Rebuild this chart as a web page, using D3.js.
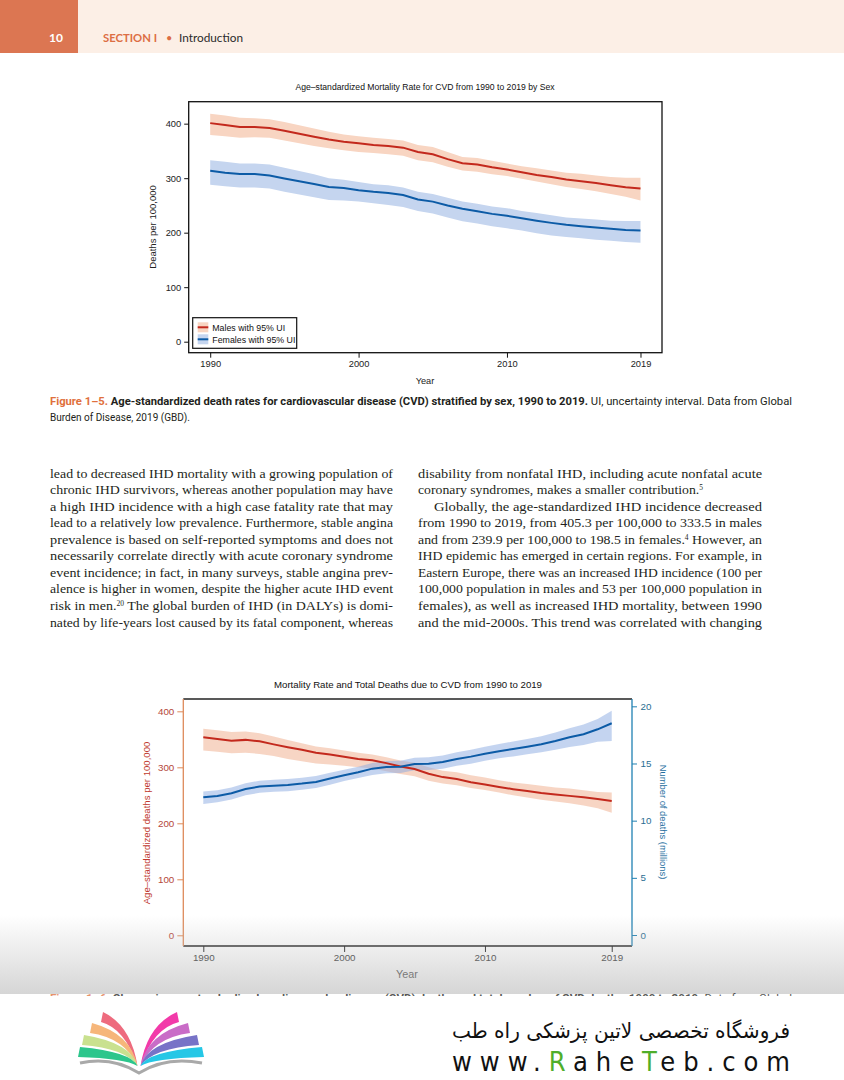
<!DOCTYPE html>
<html>
<head>
<meta charset="utf-8">
<script src="https://cdn.jsdelivr.net/npm/d3@7"></script>
<style>
  body { margin: 0; background: #fff; }
  svg { display: block; }
</style>
</head>
<body>
<script>
// ---- data ----
var years = [1990, 1991, 1992, 1993, 1994, 1995, 1996, 1997, 1998, 1999,
             2000, 2001, 2002, 2003, 2004, 2005, 2006, 2007, 2008, 2009,
             2010, 2011, 2012, 2013, 2014, 2015, 2016, 2017, 2018, 2019];

// Figure 1-5: age-standardized deaths per 100,000 by sex (with 95% UI)
var maleRate  = [401, 397.5, 394, 394, 392, 387, 381.5, 376, 371, 367,
                 364, 361, 359, 356, 348, 344, 335, 327.5, 325, 320,
                 316, 311, 306, 302, 297.5, 294.5, 291, 287, 283.5, 281];
var maleUpper = [418, 415, 411, 410, 408, 403, 397, 391, 385, 380,
                 377, 374, 372, 369, 361, 357, 348, 339, 337, 332,
                 327, 322, 318, 314, 310, 308, 305, 302, 301, 301];
var maleLower = [379, 377, 374, 375, 374, 369, 364, 359, 355, 351,
                 348, 346, 344, 341, 333, 329, 321, 314, 312, 307,
                 304, 299, 294, 289, 284, 280, 276, 271, 266, 259];
var femaleRate  = [313.5, 310, 307.5, 307.5, 305, 299.5, 294.5, 289.5, 284, 282,
                   278, 275, 273, 269, 261, 257, 250, 244, 239.5, 234.5,
                   231, 226.5, 222, 218, 214.5, 212, 209.5, 207, 205, 204];
var femaleUpper = [333, 330, 327, 327, 325, 319, 313, 307, 300, 297,
                   293, 289, 287, 283, 275, 271, 264, 257, 253, 248,
                   245, 240, 236, 232, 228, 226, 224, 222, 221.5, 221.5];
var femaleLower = [288, 285, 283, 283, 281, 275, 270, 265, 260, 259,
                   257, 254, 251, 247, 240, 235, 228, 221, 217, 212,
                   208, 204, 199, 195, 192, 190, 187, 185, 183, 181.5];

// Figure 1-6: overall rate (left axis) and number of deaths in millions (right axis)
var allRate  = [353.5, 350.5, 347.5, 349, 346.5, 341, 336, 331.5, 326, 323,
                319, 315, 312.5, 307.5, 301.5, 297, 288.5, 282.5, 279, 273.5,
                269.5, 265, 261, 257.5, 254, 251.5, 249, 246.5, 243.5, 240];
var allUpper = [369, 366, 363, 364, 361, 355, 349, 343, 337, 334,
                330, 326, 323, 318, 312, 308, 300, 294, 291, 286,
                282, 277, 273, 270, 267, 264, 262, 259, 256, 255];
var allLower = [330, 328, 325, 326, 324, 320, 315, 311, 307, 305,
                303, 300, 298, 293, 288, 284, 276, 271, 268, 263,
                259.5, 255, 250, 246, 242, 239, 236, 232, 227, 219];
var deaths      = [12.05, 12.16, 12.4, 12.77, 12.98, 13.06, 13.12, 13.24, 13.39, 13.68,
                   13.97, 14.23, 14.55, 14.7, 14.72, 14.96, 14.98, 15.13, 15.4, 15.6,
                   15.86, 16.07, 16.27, 16.47, 16.68, 16.97, 17.3, 17.56, 17.99, 18.52];
var deathsUpper = [12.55, 12.67, 12.91, 13.28, 13.5, 13.58, 13.64, 13.76, 13.91, 14.2,
                   14.45, 14.72, 15.05, 15.21, 15.25, 15.5, 15.54, 15.7, 15.98, 16.2,
                   16.47, 16.7, 16.92, 17.14, 17.38, 17.7, 18.08, 18.4, 18.9, 19.62];
var deathsLower = [11.46, 11.6, 11.85, 12.22, 12.44, 12.52, 12.58, 12.7, 12.85, 13.15,
                   13.47, 13.72, 14.0, 14.15, 14.17, 14.4, 14.42, 14.55, 14.8, 14.98,
                   15.25, 15.45, 15.62, 15.8, 15.98, 16.2, 16.45, 16.62, 16.9, 16.97];

var yearTicks = [1990, 2000, 2010, 2019];
var rateTicks = [0, 100, 200, 300, 400];
var deathTicks = [0, 5, 10, 15, 20];
var legendLabels = ["Males with 95% UI", "Females with 95% UI"];

var FONT = "Liberation Sans, Arial, Helvetica, sans-serif";
var RED = "#c3291d", RED_BAND = "#f8d5c2";
var BLUE = "#0c5ba6", BLUE_BAND = "#c5d5ef";

var svg = d3.select("body").append("svg")
    .attr("width", 844)
    .attr("height", 1080);

var defs = svg.append("defs");

// ---- page header ----
svg.append("rect").attr("width", 844).attr("height", 53).attr("fill", "#fcefe6");
svg.append("rect").attr("width", 78).attr("height", 53).attr("fill", "#dc7652");
svg.append("text").attr("x", 56).attr("y", 42).attr("text-anchor", "middle")
    .attr("font-family", "Lato, Open Sans, sans-serif").attr("font-weight", "bold")
    .attr("font-size", 12).attr("fill", "#fff").text("10");
svg.append("text").attr("x", 103).attr("y", 42)
    .attr("font-family", "Lato, Open Sans, sans-serif").attr("font-weight", "bold")
    .attr("font-size", 11.5).attr("fill", "#dc6e44")
    .attr("textLength", 54).attr("lengthAdjust", "spacingAndGlyphs").text("SECTION I");
svg.append("text").attr("x", 166).attr("y", 42)
    .attr("font-family", "Lato, sans-serif").attr("font-size", 11).attr("fill", "#dc6e44").text("•");
svg.append("text").attr("x", 179).attr("y", 42)
    .attr("font-family", "Lato, Open Sans, sans-serif")
    .attr("font-size", 11.5).attr("fill", "#2b2b2b")
    .attr("textLength", 64).attr("lengthAdjust", "spacingAndGlyphs").text("Introduction");

function styleAxis(g, lineColor, textColor, size) {
    g.select(".domain").remove();
    g.selectAll(".tick line").attr("stroke", lineColor).attr("stroke-width", 1);
    g.selectAll(".tick text").attr("fill", textColor).attr("font-size", size).attr("font-family", FONT);
}

// ---- Figure 1-5 ----
var sexData = years.map(function(yr, i) {
    return {year: yr, m: maleRate[i], mHi: maleUpper[i], mLo: maleLower[i],
            f: femaleRate[i], fHi: femaleUpper[i], fLo: femaleLower[i]};
});

var x1 = d3.scaleLinear().domain([1988.55, 2020.45]).range([188.7, 662]);
var y1 = d3.scaleLinear().domain([-20.2, 440.3]).range([352.7, 101.7]);
var g1 = svg.append("g").attr("font-family", FONT);

g1.append("text").attr("x", 425).attr("y", 90).attr("text-anchor", "middle")
    .attr("font-size", 8.3).attr("fill", "#111")
    .attr("textLength", 259).attr("lengthAdjust", "spacingAndGlyphs")
    .text("Age\u2013standardized Mortality Rate for CVD from 1990 to 2019 by Sex");

g1.append("path").datum(sexData).attr("fill", RED_BAND)
    .attr("d", d3.area().x(function(d) { return x1(d.year); })
        .y0(function(d) { return y1(d.mLo); }).y1(function(d) { return y1(d.mHi); }));
g1.append("path").datum(sexData).attr("fill", BLUE_BAND)
    .attr("d", d3.area().x(function(d) { return x1(d.year); })
        .y0(function(d) { return y1(d.fLo); }).y1(function(d) { return y1(d.fHi); }));
g1.append("path").datum(sexData).attr("fill", "none").attr("stroke", RED).attr("stroke-width", 2)
    .attr("d", d3.line().x(function(d) { return x1(d.year); }).y(function(d) { return y1(d.m); }));
g1.append("path").datum(sexData).attr("fill", "none").attr("stroke", BLUE).attr("stroke-width", 2)
    .attr("d", d3.line().x(function(d) { return x1(d.year); }).y(function(d) { return y1(d.f); }));

g1.append("g").attr("transform", "translate(188.7,0)")
    .call(d3.axisLeft(y1).tickValues(rateTicks).tickSize(4.5).tickPadding(3))
    .call(function(g) { styleAxis(g, "#111", "#222", 9.3); });
g1.append("g").attr("transform", "translate(0,352.7)")
    .call(d3.axisBottom(x1).tickValues(yearTicks).tickFormat(d3.format("d")).tickSize(5).tickPadding(3))
    .call(function(g) { styleAxis(g, "#111", "#222", 9.3); });

g1.append("rect").attr("x", 188.7).attr("y", 101.7).attr("width", 662 - 188.7).attr("height", 251)
    .attr("fill", "none").attr("stroke", "#111").attr("stroke-width", 1.3);

g1.append("text").attr("transform", "translate(155.5,227) rotate(-90)").attr("text-anchor", "middle")
    .attr("font-size", 9.5).attr("fill", "#222").text("Deaths per 100,000");
g1.append("text").attr("x", 425).attr("y", 383.5).attr("text-anchor", "middle")
    .attr("font-size", 9.2).attr("fill", "#222").text("Year");

// legend
var leg = g1.append("g");
leg.append("rect").attr("x", 192.7).attr("y", 317.7).attr("width", 104).attr("height", 30.6)
    .attr("fill", "#fff").attr("stroke", "#111").attr("stroke-width", 1.2);
legendLabels.forEach(function(label, i) {
    var cy = 327.3 + i * 12;
    leg.append("rect").attr("x", 197.7).attr("y", cy - 5).attr("width", 10.6).attr("height", 10)
        .attr("fill", i === 0 ? RED_BAND : BLUE_BAND);
    leg.append("line").attr("x1", 197.7).attr("x2", 208.3).attr("y1", cy).attr("y2", cy)
        .attr("stroke", i === 0 ? RED : BLUE).attr("stroke-width", 2);
    leg.append("text").attr("x", 212.3).attr("y", cy + 3.2).attr("font-size", 8.8)
        .attr("fill", "#111").text(label);
});

// ---- caption ----
var cap = svg.append("text").attr("x", 50).attr("y", 405)
    .attr("font-family", "Liberation Sans Narrow, Roboto, sans-serif").attr("font-size", 10.5)
    .attr("textLength", 742).attr("lengthAdjust", "spacingAndGlyphs");
cap.append("tspan").attr("fill", "#e0703c").attr("font-weight", "bold").text("Figure 1\u20135.  ");
cap.append("tspan").attr("fill", "#231f20").attr("font-weight", "bold")
    .text("Age-standardized death rates for cardiovascular disease (CVD) stratified by sex, 1990 to 2019.");
cap.append("tspan").attr("fill", "#231f20").text(" UI, uncertainty interval. Data from Global");
svg.append("text").attr("x", 50).attr("y", 421)
    .attr("font-family", "Liberation Sans Narrow, Roboto, sans-serif").attr("font-size", 10.5)
    .attr("fill", "#231f20").attr("textLength", 140).attr("lengthAdjust", "spacingAndGlyphs")
    .text("Burden of Disease, 2019 (GBD).");

// ---- body text (two justified columns) ----
var leftLines = [
    "lead to decreased IHD mortality with a growing population of",
    "chronic IHD survivors, whereas another population may have",
    "a high IHD incidence with a high case fatality rate that may",
    "lead to a relatively low prevalence. Furthermore, stable angina",
    "prevalence is based on self-reported symptoms and does not",
    "necessarily correlate directly with acute coronary syndrome",
    "event incidence; in fact, in many surveys, stable angina prev-",
    "alence is higher in women, despite the higher acute IHD event",
    "risk in men.^20 The global burden of IHD (in DALYs) is domi-",
    "nated by life-years lost caused by its fatal component, whereas"
];
var rightLines = [
    "disability from nonfatal IHD, including acute nonfatal acute",
    "coronary syndromes, makes a smaller contribution.^5",
    "Globally, the age-standardized IHD incidence decreased",
    "from 1990 to 2019, from 405.3 per 100,000 to 333.5 in males",
    "and from 239.9 per 100,000 to 198.5 in females.^4 However, an",
    "IHD epidemic has emerged in certain regions. For example, in",
    "Eastern Europe, there was an increased IHD incidence (100 per",
    "100,000 population in males and 53 per 100,000 population in",
    "females), as well as increased IHD mortality, between 1990",
    "and the mid-2000s. This trend was correlated with changing"
];

function bodyLine(str, x, y, len) {
    var t = svg.append("text").attr("x", x).attr("y", y)
        .attr("font-family", "Liberation Serif, Times New Roman, serif").attr("font-size", 13.3)
        .attr("fill", "#231f20").attr("textLength", len).attr("lengthAdjust", "spacingAndGlyphs");
    var shift = 0;
    str.split(/(\^\d+)/).forEach(function(part) {
        if (!part.length) return;
        if (part.charAt(0) === "^") {
            t.append("tspan").attr("font-size", 7.2).attr("dy", -3.8).text(part.slice(1));
            shift = 3.8;
        } else {
            var ts = t.append("tspan").text(part);
            if (shift) { ts.attr("dy", shift); shift = 0; }
        }
    });
}
leftLines.forEach(function(s, i) { bodyLine(s, 50, 477.5 + i * 16.56, 343); });
rightLines.forEach(function(s, i) {
    var x = i === 2 ? 434 : 418;
    var len = i === 1 ? 285 : 762 - x;
    bodyLine(s, x, 477.5 + i * 16.56, len);
});

// ---- Figure 1-6 ----
var allData = years.map(function(yr, i) {
    return {year: yr, r: allRate[i], rHi: allUpper[i], rLo: allLower[i],
            n: deaths[i], nHi: deathsUpper[i], nLo: deathsLower[i]};
});

var x2 = d3.scaleLinear().domain([1988.58, 2020.44]).range([183.3, 632]);
var y2 = d3.scaleLinear().domain([-19.1, 422]).range([946, 699]);
var y2r = d3.scaleLinear().domain([-0.962, 20.64]).range([946, 699]);
var g2 = svg.append("g").attr("font-family", FONT);

g2.append("text").attr("x", 408).attr("y", 687.5).attr("text-anchor", "middle")
    .attr("font-size", 9.3).attr("fill", "#111")
    .attr("textLength", 268).attr("lengthAdjust", "spacingAndGlyphs")
    .text("Mortality Rate and Total Deaths due to CVD from 1990 to 2019");

g2.append("path").datum(allData).attr("fill", "rgb(240,172,138)").attr("fill-opacity", 0.5)
    .attr("d", d3.area().x(function(d) { return x2(d.year); })
        .y0(function(d) { return y2(d.rLo); }).y1(function(d) { return y2(d.rHi); }));
g2.append("path").datum(allData).attr("fill", "rgb(138,170,226)").attr("fill-opacity", 0.5)
    .attr("d", d3.area().x(function(d) { return x2(d.year); })
        .y0(function(d) { return y2r(d.nLo); }).y1(function(d) { return y2r(d.nHi); }));
g2.append("path").datum(allData).attr("fill", "none").attr("stroke", RED).attr("stroke-width", 2)
    .attr("d", d3.line().x(function(d) { return x2(d.year); }).y(function(d) { return y2(d.r); }));
g2.append("path").datum(allData).attr("fill", "none").attr("stroke", BLUE).attr("stroke-width", 2)
    .attr("d", d3.line().x(function(d) { return x2(d.year); }).y(function(d) { return y2r(d.n); }));

g2.append("g").attr("transform", "translate(183.3,0)")
    .call(d3.axisLeft(y2).tickValues(rateTicks).tickSize(6).tickPadding(3))
    .call(function(g) { styleAxis(g, "#de8a5a", "#b5473a", 9.8); });
g2.append("g").attr("transform", "translate(632,0)")
    .call(d3.axisRight(y2r).tickValues(deathTicks).tickSize(5).tickPadding(3.5))
    .call(function(g) { styleAxis(g, "#1f80b2", "#2a6e92", 9.8); });
g2.append("g").attr("transform", "translate(0,946)")
    .call(d3.axisBottom(x2).tickValues(yearTicks).tickFormat(d3.format("d")).tickSize(6).tickPadding(2.5))
    .call(function(g) { styleAxis(g, "#111", "#222", 9.8); });

// frame: black top/bottom, coloured side axes
g2.append("line").attr("x1", 183.3).attr("x2", 632).attr("y1", 699).attr("y2", 699)
    .attr("stroke", "#222").attr("stroke-width", 1.3);
g2.append("line").attr("x1", 183.3).attr("x2", 632).attr("y1", 946).attr("y2", 946)
    .attr("stroke", "#111").attr("stroke-width", 1.3);
g2.append("line").attr("x1", 183.3).attr("x2", 183.3).attr("y1", 699).attr("y2", 946)
    .attr("stroke", "#de8a5a").attr("stroke-width", 1.3);
g2.append("line").attr("x1", 632).attr("x2", 632).attr("y1", 699).attr("y2", 946)
    .attr("stroke", "#1f80b2").attr("stroke-width", 1.3);

g2.append("text").attr("transform", "translate(150,823) rotate(-90)").attr("text-anchor", "middle")
    .attr("font-size", 9.6).attr("fill", "#c0392e").text("Age\u2013standardized deaths per 100,000");
g2.append("text").attr("transform", "translate(660,822) rotate(90)").attr("text-anchor", "middle")
    .attr("font-size", 9.4).attr("fill", "#1e6e9e").text("Number of deaths (millions)");
g2.append("text").attr("x", 407).attr("y", 978).attr("text-anchor", "middle")
    .attr("font-size", 10.8).attr("fill", "#222").text("Year");

// ---- grey fade at the bottom of the page, with the cut caption line ----
var fade = defs.append("linearGradient").attr("id", "fade")
    .attr("x1", 0).attr("y1", 0).attr("x2", 0).attr("y2", 1);
fade.append("stop").attr("offset", "0%").attr("stop-color", "#c4c4c4").attr("stop-opacity", 0);
fade.append("stop").attr("offset", "100%").attr("stop-color", "#c4c4c4").attr("stop-opacity", 0.7);
svg.append("rect").attr("x", 0).attr("y", 915).attr("width", 844).attr("height", 79).attr("fill", "url(#fade)");

defs.append("clipPath").attr("id", "cut").append("rect")
    .attr("x", 0).attr("y", 993).attr("width", 844).attr("height", 3);
var cut = svg.append("text").attr("clip-path", "url(#cut)").attr("x", 50).attr("y", 1002)
    .attr("font-family", "Liberation Sans Narrow, Roboto, sans-serif").attr("font-size", 10.5)
    .attr("textLength", 742).attr("lengthAdjust", "spacingAndGlyphs").attr("opacity", 0.75);
cut.append("tspan").attr("fill", "#e0703c").attr("font-weight", "bold").text("Figure 1\u20136.  ");
cut.append("tspan").attr("fill", "#231f20").attr("font-weight", "bold")
    .text("Change in age-standardized cardiovascular disease (CVD) deaths and total number of CVD deaths, 1990 to 2019.");
cut.append("tspan").attr("fill", "#231f20").text(" Data from Global");

// ---- watermark: book logo and shop name ----
var logo = svg.append("g");
var cx = 139, tipY = 1066;
var strips = [
    {side: -1, ox: 103, top: 1012, bot: 1022, color: "#ee6b7e"},
    {side: -1, ox: 92,  top: 1023, bot: 1033, color: "#f6b67a"},
    {side: -1, ox: 84,  top: 1035, bot: 1045, color: "#c9e18f"},
    {side: -1, ox: 80,  top: 1047, bot: 1057, color: "#2cc68c"},
    {side: 1,  ox: 177, top: 1012, bot: 1022, color: "#f23aa9"},
    {side: 1,  ox: 188, top: 1023, bot: 1033, color: "#c96cc7"},
    {side: 1,  ox: 197, top: 1035, bot: 1045, color: "#7773c7"},
    {side: 1,  ox: 202, top: 1047, bot: 1057, color: "#25c7e6"}
];
strips.forEach(function(s) {
    var tx = cx + s.side * 1.5;
    var p = d3.path();
    p.moveTo(s.ox, s.top);
    p.quadraticCurveTo(cx + s.side * 8, s.top + (tipY - s.top) * 0.25, tx, tipY);
    p.quadraticCurveTo(cx + s.side * 14, s.bot + (tipY - s.bot) * 0.15, s.ox + s.side * 2, s.bot);
    p.closePath();
    logo.append("path").attr("d", p.toString()).attr("fill", s.color);
});
var base = d3.path();
base.moveTo(80, 1063);
base.quadraticCurveTo(112, 1056, cx, 1073);
base.quadraticCurveTo(166, 1056, 202, 1063);
logo.append("path").attr("d", base.toString()).attr("fill", "none")
    .attr("stroke", "#a9a9a9").attr("stroke-width", 3);

svg.append("text").attr("x", 790).attr("y", 1038).attr("text-anchor", "end")
    .attr("font-family", "DejaVu Sans, sans-serif").attr("font-size", 21).attr("fill", "#111")
    .attr("textLength", 338).attr("lengthAdjust", "spacingAndGlyphs")
    .text("فروشگاه تخصصی لاتین پزشکی  راه طب");
var site = svg.append("text").attr("x", 452).attr("y", 1071)
    .attr("font-family", "DejaVu Sans Condensed, Roboto, sans-serif").attr("font-size", 27)
    .attr("fill", "#111").attr("textLength", 338).attr("lengthAdjust", "spacing");
site.append("tspan").text("www.");
site.append("tspan").attr("fill", "#4fae2a").text("R");
site.append("tspan").text("ahe");
site.append("tspan").attr("fill", "#4fae2a").text("T");
site.append("tspan").text("eb.com");
</script>
</body>
</html>
